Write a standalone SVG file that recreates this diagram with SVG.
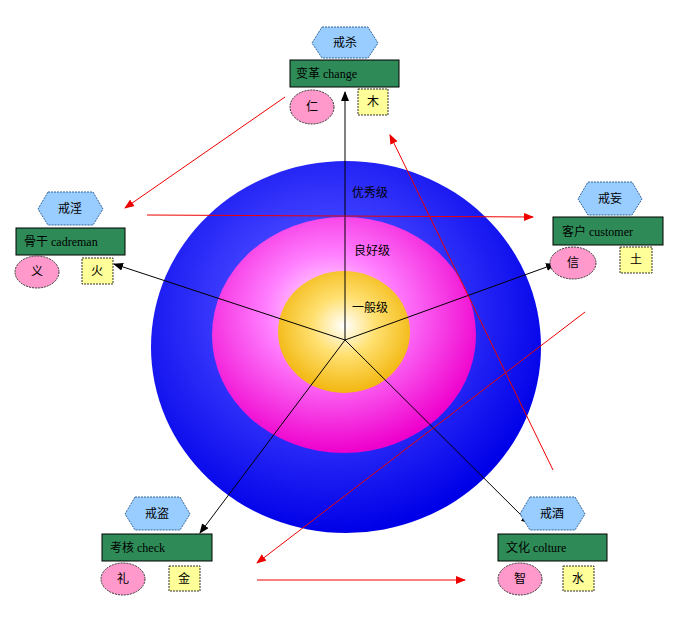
<svg xmlns="http://www.w3.org/2000/svg" width="681" height="618" viewBox="0 0 681 618">
<defs>
<radialGradient id="gb" cx="0.45" cy="0.4" r="0.6"><stop offset="0" stop-color="#c0c0ff"/><stop offset="0.4" stop-color="#4040ff"/><stop offset="1" stop-color="#0000e8"/></radialGradient>
<radialGradient id="gm" cx="0.45" cy="0.4" r="0.6"><stop offset="0" stop-color="#ffffff"/><stop offset="0.4" stop-color="#ff80ff"/><stop offset="1" stop-color="#ee00cc"/></radialGradient>
<radialGradient id="gy" cx="0.5" cy="0.45" r="0.6"><stop offset="0" stop-color="#ffffff"/><stop offset="0.4" stop-color="#ffe070"/><stop offset="1" stop-color="#f0b000"/></radialGradient>
<marker id="ab" markerWidth="10" markerHeight="8" refX="9" refY="4" orient="auto" markerUnits="userSpaceOnUse"><path d="M0,0L10,4L0,8z" fill="#000"/></marker>
<marker id="ar" markerWidth="10" markerHeight="8" refX="9" refY="4" orient="auto" markerUnits="userSpaceOnUse"><path d="M0,0L10,4L0,8z" fill="#e00"/></marker>
</defs>
<style>
text{font-family:"Liberation Serif","Noto Sans CJK SC",serif;font-size:12px;fill:#000}
.t{text-anchor:middle}
.hex{fill:#99ccff;stroke:#336699;stroke-width:1;stroke-dasharray:2 1}
.box{fill:#2e8b57;stroke:#000;stroke-width:1}
.pk{fill:#ff99cc;stroke:#333;stroke-dasharray:2 1}
.yl{fill:#ffff99;stroke:#333;stroke-dasharray:2 1}
.bl{stroke:#000;stroke-width:1;marker-end:url(#ab)}
.rd{stroke:#e00;stroke-width:1;marker-end:url(#ar)}
</style>
<g id="circles">
<ellipse cx="346" cy="347" rx="195" ry="186" fill="url(#gb)"/>
<ellipse cx="344" cy="335" rx="132" ry="118" fill="url(#gm)"/>
<ellipse cx="344" cy="332" rx="66" ry="61" fill="url(#gy)"/>
<text x="370" y="197" class="t">优秀级</text>
<text x="372" y="255" class="t">良好级</text>
<text x="370" y="312" class="t">一般级</text>
</g>
<g id="connectors">
<line x1="345" y1="340" x2="345" y2="92" class="bl"/>
<line x1="345" y1="340" x2="114" y2="264" class="bl"/>
<line x1="345" y1="340" x2="555" y2="264" class="bl"/>
<line x1="345" y1="340" x2="200" y2="533" class="bl"/>
<line x1="345" y1="340" x2="530" y2="524" class="bl"/>
<line x1="285" y1="97" x2="125" y2="208" class="rd"/>
<line x1="147" y1="215" x2="533" y2="217" class="rd"/>
<line x1="553" y1="470" x2="390" y2="135" class="rd"/>
<line x1="585" y1="312" x2="257" y2="563" class="rd"/>
<line x1="257" y1="580" x2="465" y2="580" class="rd"/>
</g>
<g id="n1">
<polygon points="322,27 368,27 378,43 368,58 322,58 312,43" class="hex"/><text x="345" y="47" class="t">戒杀</text>
<rect x="290" y="60" width="109" height="27" class="box"/><text x="296" y="78">变革 change</text>
<ellipse cx="312" cy="107" rx="22" ry="17" class="pk"/><text x="312" y="111" class="t">仁</text>
<rect x="358" y="89" width="30" height="26" class="yl"/><text x="373" y="106" class="t">木</text>
</g>
<g id="n2">
<polygon points="588,182 632,182 642,199 632,215 588,215 578,199" class="hex"/><text x="610" y="203" class="t">戒妄</text>
<rect x="553" y="217" width="110" height="28" class="box"/><text x="562" y="236">客户 customer</text>
<ellipse cx="573" cy="263" rx="23" ry="16" class="pk"/><text x="573" y="267" class="t">信</text>
<rect x="620" y="247" width="32" height="26" class="yl"/><text x="636" y="264" class="t">土</text>
</g>
<g id="n3">
<polygon points="48,192 93,192 103,209 93,225 48,225 38,209" class="hex"/><text x="70" y="213" class="t">戒淫</text>
<rect x="16" y="228" width="109" height="27" class="box"/><text x="24" y="246">骨干 cadreman</text>
<ellipse cx="37" cy="272" rx="22" ry="16" class="pk"/><text x="37" y="276" class="t">义</text>
<rect x="82" y="258" width="31" height="26" class="yl"/><text x="97" y="275" class="t">火</text>
</g>
<g id="n4">
<polygon points="135,497 180,497 190,514 180,530 135,530 125,514" class="hex"/><text x="157" y="518" class="t">戒盗</text>
<rect x="102" y="534" width="110" height="27" class="box"/><text x="110" y="552">考核 check</text>
<ellipse cx="123" cy="579" rx="22" ry="16" class="pk"/><text x="123" y="583" class="t">礼</text>
<rect x="169" y="566" width="31" height="25" class="yl"/><text x="184" y="583" class="t">金</text>
</g>
<g id="n5">
<polygon points="530,497 575,497 585,514 575,530 530,530 520,514" class="hex"/><text x="552" y="518" class="t">戒酒</text>
<rect x="498" y="534" width="109" height="27" class="box"/><text x="506" y="552">文化 colture</text>
<ellipse cx="520" cy="579" rx="22" ry="16" class="pk"/><text x="520" y="583" class="t">智</text>
<rect x="563" y="566" width="31" height="25" class="yl"/><text x="578" y="583" class="t">水</text>
</g>
</svg>
